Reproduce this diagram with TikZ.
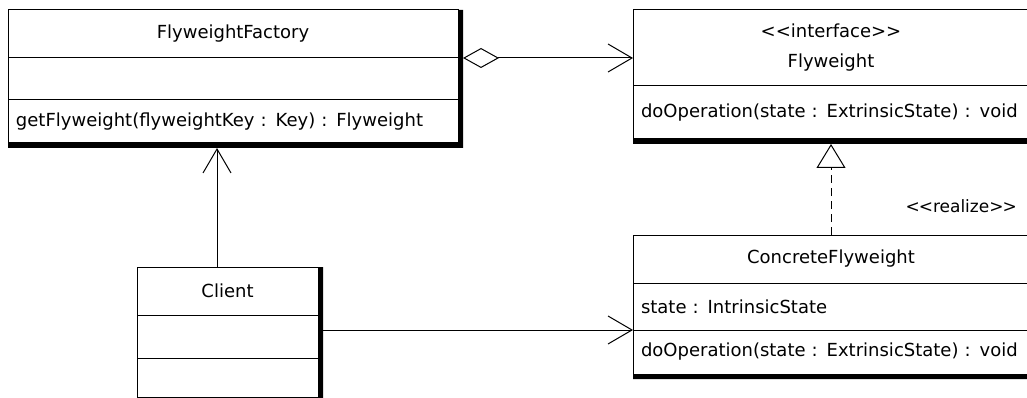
\documentclass[tikz,border=0pt]{standalone}
\usepackage{fontspec}
\usepackage{tikz}
\usetikzlibrary{positioning,arrows.meta}
\newfontfamily\umlfont{DejaVu Sans}

\begin{document}
\begin{tikzpicture}[
      x=1pt, y=-1pt,
      every node/.style={align=center},
      uml/.style={draw, fill=white, line width=1pt, inner sep=0pt, outer sep=0pt,
        font=\umlfont\fontsize{18}{22}\selectfont},
      members/.style={text width=#1, align=left, inner xsep=8pt},
      assoc/.style={line width=1pt, -{Straight Barb[length=24pt, width=28pt]}},
      aggr/.style={line width=1pt, {Diamond[open, length=36pt, width=20pt]}-{Straight Barb[length=24pt, width=28pt]}},
      realize/.style={line width=1pt, dash pattern=on 8pt off 5pt, -{Triangle[open, length=24pt, width=29pt]}}
    ]
      \clip (0,0) rectangle (1027,398);

      % FlyweightFactory
      \node[uml, anchor=north west, minimum width=450pt, minimum height=48pt] (factory-name) at (8,10) {FlyweightFactory};
      \node[uml, below=0pt of factory-name, minimum width=450pt, minimum height=42pt] (factory-attr) {};
      \node[uml, members=434pt, below=0pt of factory-attr, minimum height=43pt] (factory-ops) {getFlyweight(flyweightKey : Key) : Flyweight};

      % Flyweight interface
      \node[uml, anchor=north west, minimum width=396pt, minimum height=76pt] (flyweight-name) at (633,10) {<<interface>>\\[8pt]Flyweight};
      \node[uml, members=380pt, below=0pt of flyweight-name, minimum height=53pt] (flyweight-ops) {doOperation(state : ExtrinsicState) : void};

      % ConcreteFlyweight
      \node[uml, anchor=north west, minimum width=396pt, minimum height=48pt] (concrete-name) at (633,235) {ConcreteFlyweight};
      \node[uml, members=380pt, below=0pt of concrete-name, minimum height=47pt] (concrete-attr) {state : IntrinsicState};
      \node[uml, members=380pt, below=0pt of concrete-attr, minimum height=44pt] (concrete-ops) {doOperation(state : ExtrinsicState) : void};

      % Client
      \node[uml, anchor=north west, minimum width=181pt, minimum height=48pt] (client-name) at (137,267) {Client};
      \node[uml, below=0pt of client-name, minimum width=181pt, minimum height=43pt] (client-attr) {};
      \node[uml, below=0pt of client-attr, minimum width=181pt, minimum height=39pt] (client-ops) {};

      % thick right and bottom edges
      \foreach \hd/\ft in {factory-name/factory-ops, flyweight-name/flyweight-ops,
                           concrete-name/concrete-ops, client-name/client-ops}
        \fill (\hd.north east) rectangle ([shift={(5pt,-5pt)}]\ft.south east)
              (\ft.south west) rectangle ([shift={(5pt,-5pt)}]\ft.south east);

      % Relations
      \draw[aggr, shorten <=5pt] (factory-name.south east) -- (flyweight-name.west |- factory-name.south east);
      \draw[assoc, shorten >=5pt] ([xshift=-10.5pt]client-name.north) -- ([xshift=-10.5pt]client-name.north |- factory-ops.south);
      \draw[assoc] (client-attr.east |- concrete-ops.north west) -- (concrete-ops.north west);
      \draw[realize, shorten >=5pt] (concrete-name.north) -- (concrete-name.north |- flyweight-ops.south)
        node[pos=0.3, right=74pt, inner sep=0pt, font=\umlfont\fontsize{17}{22}\selectfont] {<\kern-1pt<realize>\kern-1pt>};

    \end{tikzpicture}
\end{document}
